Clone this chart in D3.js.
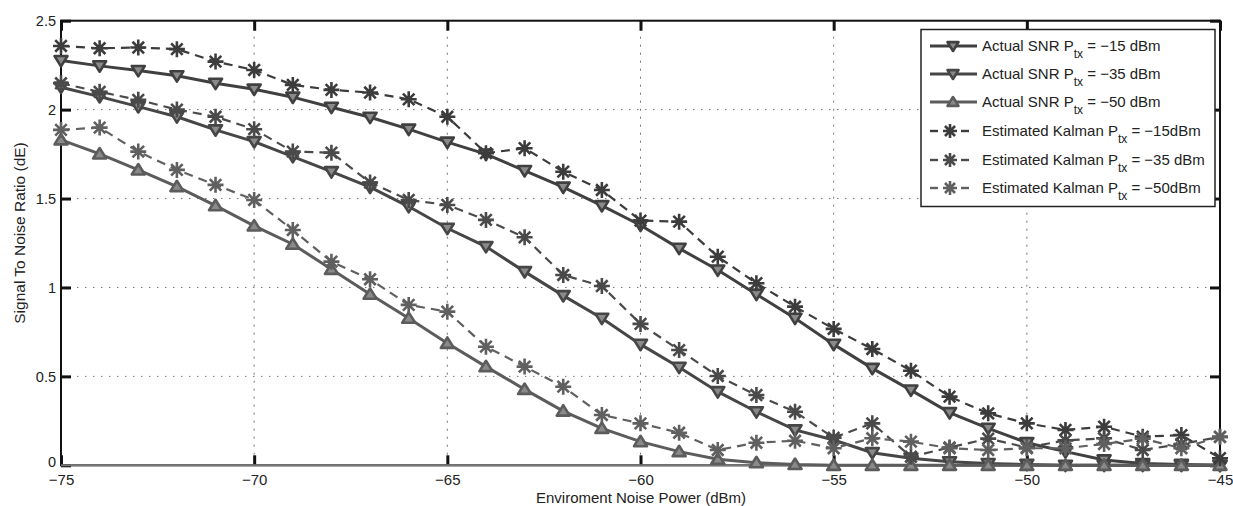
<!DOCTYPE html>
<html>
<head>
<meta charset="utf-8">
<script src="https://cdn.jsdelivr.net/npm/d3@7"></script>
<style>
  body { margin: 0; background: #fff; }
  text { font-family: "Liberation Sans", Arial, sans-serif; fill: #222; }
</style>
</head>
<body>
<div id="chart"></div>
<script>
// x values (dBm), one point per dBm
var noisePower = d3.range(-75, -44, 1);

var actual15 = [2.276, 2.246, 2.22, 2.19, 2.148, 2.115, 2.07, 2.013, 1.957, 1.89,
  1.817, 1.75, 1.657, 1.564, 1.46, 1.35, 1.22, 1.098, 0.962, 0.827,
  0.68, 0.545, 0.423, 0.296, 0.208, 0.127, 0.077, 0.03, 0.01, 0.005, 0.0];

var actual35 = [2.126, 2.073, 2.017, 1.96, 1.886, 1.82, 1.736, 1.651, 1.564, 1.455,
  1.333, 1.23, 1.089, 0.954, 0.827, 0.68, 0.551, 0.414, 0.301, 0.199,
  0.142, 0.071, 0.04, 0.02, 0.01, 0.005, 0.0, 0.0, 0.0, 0.0, 0.0];

var actual50 = [1.83, 1.751, 1.661, 1.567, 1.46, 1.346, 1.243, 1.102, 0.962, 0.827,
  0.686, 0.555, 0.427, 0.305, 0.208, 0.133, 0.077, 0.034, 0.015, 0.005,
  0.0, 0.0, 0.0, 0.0, 0.0, 0.0, 0.0, 0.0, 0.0, 0.0, 0.0];

var kalman15 = [2.358, 2.345, 2.349, 2.34, 2.27, 2.223, 2.139, 2.111, 2.096, 2.058,
  1.96, 1.755, 1.783, 1.651, 1.548, 1.376, 1.37, 1.173, 1.024, 0.892,
  0.767, 0.654, 0.532, 0.386, 0.292, 0.236, 0.199, 0.217, 0.161, 0.17, 0.04];

var kalman35 = [2.148, 2.1, 2.055, 2.0, 1.96, 1.89, 1.764, 1.758, 1.59, 1.492,
  1.464, 1.38, 1.282, 1.07, 1.008, 0.795, 0.648, 0.502, 0.395, 0.301,
  0.155, 0.236, 0.048, 0.1, 0.15, 0.1, 0.14, 0.152, 0.086, 0.12, 0.16];

var kalman50 = [1.886, 1.899, 1.764, 1.661, 1.577, 1.492, 1.323, 1.145, 1.046, 0.902,
  0.864, 0.667, 0.555, 0.442, 0.283, 0.236, 0.183, 0.086, 0.127, 0.138,
  0.096, 0.152, 0.133, 0.096, 0.086, 0.096, 0.096, 0.12, 0.15, 0.096, 0.16];

var xTicks = [-75, -70, -65, -60, -55, -50, -45];
var yTicks = [0, 0.5, 1, 1.5, 2, 2.5];

var seriesNames = ['Actual SNR P', 'Actual SNR P', 'Actual SNR P',
  'Estimated Kalman P', 'Estimated Kalman P', 'Estimated Kalman P'];
var seriesSuffix = [' = \u221215 dBm', ' = \u221235 dBm', ' = \u221250 dBm',
  ' = \u221215dBm', ' = \u221235 dBm', ' = \u221250dBm'];

var series = [
  { values: actual15, color: '#404040', dashed: false, marker: 'down' },
  { values: actual35, color: '#464646', dashed: false, marker: 'down' },
  { values: actual50, color: '#5c5c5c', dashed: false, marker: 'up' },
  { values: kalman15, color: '#3c3c3c', dashed: true, marker: 'star' },
  { values: kalman35, color: '#4a4a4a', dashed: true, marker: 'star' },
  { values: kalman50, color: '#606060', dashed: true, marker: 'star' }
];

var width = 1233, height = 506;
var plot = { left: 61, right: 1220, top: 20.7, bottom: 465.3 };

var svg = d3.select('#chart')
            .append('svg')
            .attr('width', width)
            .attr('height', height);

var x = d3.scaleLinear().domain([-75, -45]).range([plot.left, plot.right]);
var y = d3.scaleLinear().domain([0, 2.5]).range([plot.bottom, plot.top]);

// Grid
svg.append('g')
   .selectAll('line')
   .data(xTicks.slice(1, -1))
   .enter()
   .append('line')
   .attr('x1', function(d) { return x(d); })
   .attr('x2', function(d) { return x(d); })
   .attr('y1', plot.top)
   .attr('y2', plot.bottom)
   .attr('stroke', '#777')
   .attr('stroke-width', 1)
   .attr('stroke-dasharray', '2,6');

svg.append('g')
   .selectAll('line')
   .data(yTicks.slice(1, -1))
   .enter()
   .append('line')
   .attr('x1', plot.left)
   .attr('x2', plot.right)
   .attr('y1', function(d) { return y(d); })
   .attr('y2', function(d) { return y(d); })
   .attr('stroke', '#777')
   .attr('stroke-width', 1)
   .attr('stroke-dasharray', '1.5,6.5');

// Axes
var minusFmt = function(d) { return String(d).replace('-', '\u2212'); };
var xAxisBottom = d3.axisBottom(x).tickValues(xTicks).tickSize(-10).tickPadding(9).tickFormat(minusFmt);
var xAxisTop = d3.axisTop(x).tickValues(xTicks).tickSize(-10).tickFormat('');
var yAxisLeft = d3.axisLeft(y).tickValues(yTicks).tickSize(-10).tickPadding(5).tickFormat(function(d) { return d; });
var yAxisRight = d3.axisRight(y).tickValues(yTicks).tickSize(-10).tickFormat('');

function styleAxis(g, size) {
  g.select('.domain').remove();
  g.selectAll('.tick line').attr('stroke', '#111').attr('stroke-width', 3);
  g.selectAll('.tick text').attr('font-size', size || 15).attr('fill', '#222')
   .style('font-family', '"Liberation Sans", Arial, sans-serif');
}

svg.append('g').attr('transform', 'translate(0,' + plot.bottom + ')').call(xAxisBottom).call(styleAxis, 15);
svg.append('g').attr('transform', 'translate(0,' + plot.top + ')').call(xAxisTop).call(styleAxis);
var yAxisG = svg.append('g').attr('transform', 'translate(' + plot.left + ',0)').call(yAxisLeft).call(styleAxis, 14.5);
yAxisG.selectAll('.tick text').filter(function(d) { return d === 0; }).attr('dy', '0.1em');
svg.append('g').attr('transform', 'translate(' + plot.right + ',0)').call(yAxisRight).call(styleAxis);

// Frame
svg.append('rect')
   .attr('x', plot.left)
   .attr('y', plot.top)
   .attr('width', plot.right - plot.left)
   .attr('height', plot.bottom - plot.top)
   .attr('fill', 'none')
   .attr('stroke', '#111')
   .attr('stroke-width', 2);

svg.append('line')
   .attr('x1', plot.left).attr('x2', plot.right)
   .attr('y1', plot.bottom).attr('y2', plot.bottom)
   .attr('stroke', '#777').attr('stroke-width', 2);

// Axis labels
svg.append('text')
   .attr('x', 641)
   .attr('y', 503)
   .attr('text-anchor', 'middle')
   .attr('font-size', 15)
   .text('Enviroment Noise Power (dBm)');

svg.append('text')
   .attr('transform', 'rotate(-90)')
   .attr('x', -233)
   .attr('y', 25)
   .attr('text-anchor', 'middle')
   .attr('font-size', 15.5)
   .text('Signal To Noise Ratio (dE)');

// Markers
function drawMarker(g, type, color, s) {
  if (type === 'down') {
    g.append('path')
     .attr('d', 'M' + (-s) + ',' + (-s * 0.7) + 'L' + s + ',' + (-s * 0.7) + 'L0,' + (s * 0.9) + 'Z')
     .attr('fill', '#8a8a8a')
     .attr('stroke', color)
     .attr('stroke-width', 2.6)
     .attr('stroke-linejoin', 'round');
  } else if (type === 'up') {
    g.append('path')
     .attr('d', 'M' + (-s) + ',' + (s * 0.7) + 'L' + s + ',' + (s * 0.7) + 'L0,' + (-s * 0.9) + 'Z')
     .attr('fill', '#8a8a8a')
     .attr('stroke', color)
     .attr('stroke-width', 2.6)
     .attr('stroke-linejoin', 'round');
  } else {
    var d = s * 0.72;
    g.append('path')
     .attr('d', 'M' + (-s) + ',0L' + s + ',0M0,' + (-s) + 'L0,' + s +
                'M' + (-d) + ',' + (-d) + 'L' + d + ',' + d +
                'M' + (-d) + ',' + d + 'L' + d + ',' + (-d))
     .attr('fill', 'none')
     .attr('stroke', color)
     .attr('stroke-width', 2.6);
  }
}

var line = d3.line()
             .x(function(d, i) { return x(noisePower[i]); })
             .y(function(d) { return y(d); });

series.forEach(function(s) {
  svg.append('path')
     .datum(s.values)
     .attr('fill', 'none')
     .attr('stroke', s.color)
     .attr('stroke-width', s.dashed ? 2.2 : 3)
     .attr('stroke-dasharray', s.dashed ? '9,6' : null)
     .attr('d', line);
});

series.forEach(function(s) {
  s.values.forEach(function(v, i) {
    var g = svg.append('g')
               .attr('transform', 'translate(' + x(noisePower[i]) + ',' + y(v) + ')');
    drawMarker(g, s.marker, s.color, s.marker === 'star' ? 8 : 6.5);
  });
});

// Legend
var legend = svg.append('g');
legend.append('rect')
      .attr('x', 921)
      .attr('y', 29.5)
      .attr('width', 294)
      .attr('height', 177)
      .attr('fill', '#fff')
      .attr('stroke', '#222')
      .attr('stroke-width', 1.5);

var rowY = [44, 72, 100, 129, 158, 186];

series.forEach(function(s, i) {
  var row = legend.append('g').attr('transform', 'translate(0,' + rowY[i] + ')');
  if (s.dashed) {
    row.append('line').attr('x1', 930).attr('x2', 938).attr('y1', 2).attr('y2', 2)
       .attr('stroke', s.color).attr('stroke-width', 2.4);
    row.append('line').attr('x1', 961).attr('x2', 969).attr('y1', 2).attr('y2', 2)
       .attr('stroke', s.color).attr('stroke-width', 2.4);
    drawMarker(row.append('g').attr('transform', 'translate(950,2)'), 'star', s.color, 7);
  } else {
    row.append('line').attr('x1', 930).attr('x2', 977).attr('y1', 2).attr('y2', 2)
       .attr('stroke', s.color).attr('stroke-width', 3);
    drawMarker(row.append('g').attr('transform', 'translate(953,2)'), s.marker, s.color, 5.5);
  }
  var t = row.append('text')
             .attr('x', 982)
             .attr('y', 7)
             .attr('font-size', 15);
  t.append('tspan').text(seriesNames[i]);
  t.append('tspan').attr('font-size', 12).attr('dy', 7).text('tx');
  t.append('tspan').attr('dy', -7).text(seriesSuffix[i]);
});
</script>
</body>
</html>
